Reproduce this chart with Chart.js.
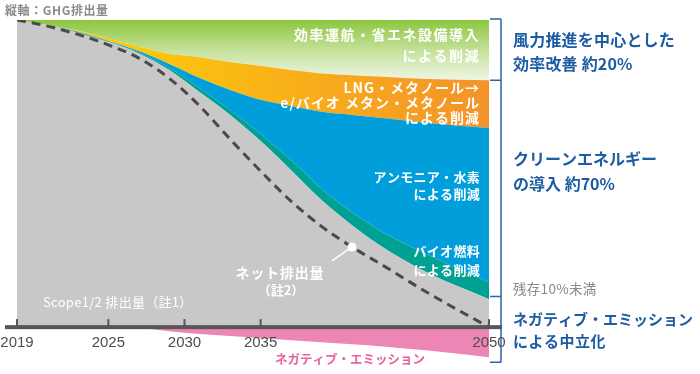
<!DOCTYPE html>
<html lang="ja">
<head>
<meta charset="utf-8">
<style>
  html, body { margin: 0; padding: 0; background: #fff; }
  #wrap { position: relative; width: 700px; height: 374px; }
</style>
<script src="https://cdn.jsdelivr.net/npm/chart.js@4.4.0/dist/chart.umd.min.js"></script>
</head>
<body>
<div id="wrap"><canvas id="c" width="700" height="374"></canvas></div>
<script>
// ---------------- Data (share of 2019 GHG emissions, %) ----------------
const years       = [2019, 2021, 2023, 2025, 2027, 2029, 2031, 2033, 2035, 2037, 2039, 2041, 2043, 2046, 2050];
const tickYears   = [2019, 2025, 2030, 2035, 2050];
const scope12     = [100, 98.4, 95.8, 92.8, 89.1, 83.7, 76.5, 69.1, 60.6, 51.1, 41.4, 33.2, 26.1, 17.6, 9.1];
const bioFuel     = [0, 0, 0.2, 0.2, 0.3, 0.7, 1.3, 1.6, 2.3, 3.3, 3.6, 4.2, 4.9, 5.9, 5.5];
const ammoniaH2   = [0, 0, 0.2, 0.2, 0.5, 1.3, 3.3, 6.5, 11.1, 17.6, 25.1, 31.7, 37.1, 43.0, 50.2];
const lngMethanol = [0, 0, 0.3, 0.8, 1.5, 3.3, 6.8, 9.1, 11.1, 11.7, 12.5, 12.9, 13.4, 14.3, 15.6];
const efficiency  = [0, 1.6, 3.5, 6.0, 8.6, 11.0, 12.1, 13.7, 14.9, 16.3, 17.4, 18.0, 18.5, 19.2, 19.6];
const negative    = [0, 0, 0, 0, -0.3, -1.3, -2.2, -2.9, -3.6, -4.3, -4.9, -5.6, -6.3, -7.6, -9.8];
const netEmission = [100, 98.0, 95.3, 91.9, 87.6, 81.0, 72.0, 61.2, 50.8, 41.0, 32.8, 26.1, 20.2, 11.1, 0];
const dotYear = 2041;

const JP = '"Noto Sans CJK JP", "Noto Sans", sans-serif';
const BLUE_TXT = '#1d5ba3';

const pts = arr => arr.map((v, i) => ({ x: years[i], y: v }));

function area(label, values, color, fill, stack) {
  return {
    label: label,
    data: pts(values),
    backgroundColor: color,
    borderColor: 'rgba(0,0,0,0)',
    borderWidth: 0,
    pointRadius: 0,
    fill: fill,
    stack: stack,
    cubicInterpolationMode: 'monotone'
  };
}

// green band: vertical fade
function greenFill(context) {
  const chart = context.chart;
  if (!chart.chartArea) return '#a9d46b';
  const y = chart.scales.y;
  const g = chart.ctx.createLinearGradient(0, y.getPixelForValue(100), 0, y.getPixelForValue(80));
  g.addColorStop(0, '#8dc63f');
  g.addColorStop(0.5, '#c5e19b');
  g.addColorStop(1, '#f1f7e8');
  return g;
}

// yellow -> orange band: horizontal
function orangeFill(context) {
  const chart = context.chart;
  if (!chart.chartArea) return '#f8a81c';
  const x = chart.scales.x;
  const g = chart.ctx.createLinearGradient(x.getPixelForValue(2027), 0, x.getPixelForValue(2050), 0);
  g.addColorStop(0, '#fdc70c');
  g.addColorStop(1, '#f3922a');
  return g;
}

function txt(ctx, str, px, py, font, color, align, spacing) {
  ctx.font = font;
  ctx.fillStyle = color;
  ctx.textAlign = align || 'left';
  ctx.textBaseline = 'middle';
  ctx.letterSpacing = spacing || '0px';
  ctx.fillText(str, px, py);
}

const overlay = {
  id: 'overlay',
  afterDatasetsDraw(chart) {
    const { ctx, scales: { x, y } } = chart;
    const y0 = y.getPixelForValue(0);
    ctx.save();

    // axis bar + upward ticks
    ctx.fillStyle = '#575757';
    ctx.fillRect(5, y0 - 2, 497, 4);
    tickYears.forEach(v => {
      const px = x.getPixelForValue(v);
      ctx.fillRect(px - 1, y0 - 8, 2, 8);
    });

    // leader line to the net-emission dot
    const net = chart.getDatasetMeta(0).data[years.indexOf(dotYear)];
    ctx.strokeStyle = '#ffffff';
    ctx.lineWidth = 1.5;
    ctx.beginPath();
    ctx.moveTo(net.x, net.y);
    ctx.lineTo(net.x - 20, net.y + 14);
    ctx.stroke();

    // labels inside the areas
    const R = 480;
    const F = 'bold 14px ' + JP, f = 'bold 13px ' + JP;
    txt(ctx, '効率運航・省エネ設備導入', R, 35, F, '#fff', 'right', '1.5px');
    txt(ctx, 'による削減', R, 56, F, '#fff', 'right', '1.5px');
    txt(ctx, 'LNG・メタノール→', R, 88, F, '#fff', 'right', '1px');
    txt(ctx, 'e/バイオ メタン・メタノール', R, 103, F, '#fff', 'right', '1px');
    txt(ctx, 'による削減', R, 118, F, '#fff', 'right', '1px');
    txt(ctx, 'アンモニア・水素', R, 177, f, '#fff', 'right', '0.3px');
    txt(ctx, 'による削減', R, 194, f, '#fff', 'right', '0.3px');
    txt(ctx, 'バイオ燃料', R, 251, f, '#fff', 'right', '0.3px');
    txt(ctx, 'による削減', R, 270, f, '#fff', 'right', '0.3px');
    txt(ctx, 'ネット排出量', 280, 273, F, '#fff', 'center', '0.8px');
    txt(ctx, '（註2）', 281, 290, f, '#fff', 'center', '0px');
    txt(ctx, 'Scope1/2 排出量（註1）', 43, 302, '13px ' + JP, '#fff', 'left', '0.3px');

    // negative emission label (below axis)
    txt(ctx, 'ネガティブ・エミッション', 275, 359, 'bold 12.5px ' + JP, '#e8639f', 'left', '0px');

    // top-left axis caption
    txt(ctx, '縦軸：GHG排出量', 5, 10, 'bold 12px ' + JP, '#8a8a8a', 'left', '0.6px');

    // right-hand brackets
    const bx = 501;
    const yTop = y.getPixelForValue(100) - 1;
    const yEff = y.getPixelForValue(100 - efficiency[efficiency.length - 1]);
    const yRes = y.getPixelForValue(10);
    const yBot = y.getPixelForValue(negative[negative.length - 1]) + 5;
    ctx.strokeStyle = '#2b64ab';
    ctx.lineWidth = 1.5;
    ctx.beginPath();
    ctx.moveTo(bx, yTop); ctx.lineTo(bx, yBot);
    [yTop, yEff, yRes, yBot].forEach(py => { ctx.moveTo(490, py); ctx.lineTo(bx, py); });
    ctx.stroke();

    // right-hand captions
    const L = 513;
    txt(ctx, '風力推進を中心とした', L, 40, 'bold 16px ' + JP, BLUE_TXT, 'left', '0.2px');
    txt(ctx, '効率改善 約20%', L, 64, 'bold 16px ' + JP, BLUE_TXT, 'left', '0.2px');
    txt(ctx, 'クリーンエネルギー', L, 159, 'bold 16px ' + JP, BLUE_TXT, 'left', '0px');
    txt(ctx, 'の導入 約70%', L, 184, 'bold 16px ' + JP, BLUE_TXT, 'left', '0px');
    txt(ctx, '残存10%未満', L, 289, '13.5px ' + JP, '#8a8a8a', 'left', '0.3px');
    txt(ctx, 'ネガティブ・エミッション', L, 319, 'bold 15px ' + JP, BLUE_TXT, 'left', '0px');
    txt(ctx, 'による中立化', L, 341, 'bold 15px ' + JP, BLUE_TXT, 'left', '0.5px');

    ctx.restore();
  }
};

new Chart(document.getElementById('c'), {
  type: 'line',
  data: {
    datasets: [
      {
        label: 'ネット排出量',
        data: pts(netEmission),
        borderColor: '#4a4a4a',
        borderWidth: 3,
        borderDash: [9, 6],
        fill: false,
        stack: 'net',
        cubicInterpolationMode: 'monotone',
        pointRadius: c => (years[c.dataIndex] === dotYear ? 4.5 : 0),
        pointBackgroundColor: '#ffffff',
        pointBorderColor: '#ffffff',
        pointBorderWidth: 0
      },
      area('Scope1/2排出量', scope12, '#c8c8c8', 'origin', 'pos'),
      area('バイオ燃料', bioFuel, '#00a192', '-1', 'pos'),
      area('アンモニア・水素', ammoniaH2, '#009fdc', '-1', 'pos'),
      area('LNG・メタノール', lngMethanol, orangeFill, '-1', 'pos'),
      area('効率運航・省エネ', efficiency, greenFill, '-1', 'pos'),
      area('ネガティブ・エミッション', negative, '#ee86b5', 'origin', 'neg')
    ]
  },
  options: {
    responsive: false,
    animation: false,
    layout: { autoPadding: false, padding: { top: 20, bottom: 10, left: 17, right: 211 } },
    plugins: { legend: { display: false }, tooltip: { enabled: false } },
    scales: {
      x: {
        type: 'linear',
        min: 2019,
        max: 2050,
        position: { y: 0 },
        grid: { display: false, drawTicks: false },
        border: { display: false },
        afterBuildTicks: s => { s.ticks = tickYears.map(v => ({ value: v })); },
        afterFit: s => { s.paddingLeft = 0; s.paddingRight = 0; },
        ticks: {
          z: 1,
          autoSkip: false,
          maxRotation: 0,
          padding: 7,
          color: '#4d4d4d',
          font: { family: '"Liberation Sans Narrow", "Liberation Sans", Arial, sans-serif', size: 15 },
          callback: v => String(v)
        }
      },
      y: {
        type: 'linear',
        min: -12,
        max: 100,
        stacked: true,
        display: false
      }
    }
  },
  plugins: [overlay]
});
</script>
</body>
</html>
